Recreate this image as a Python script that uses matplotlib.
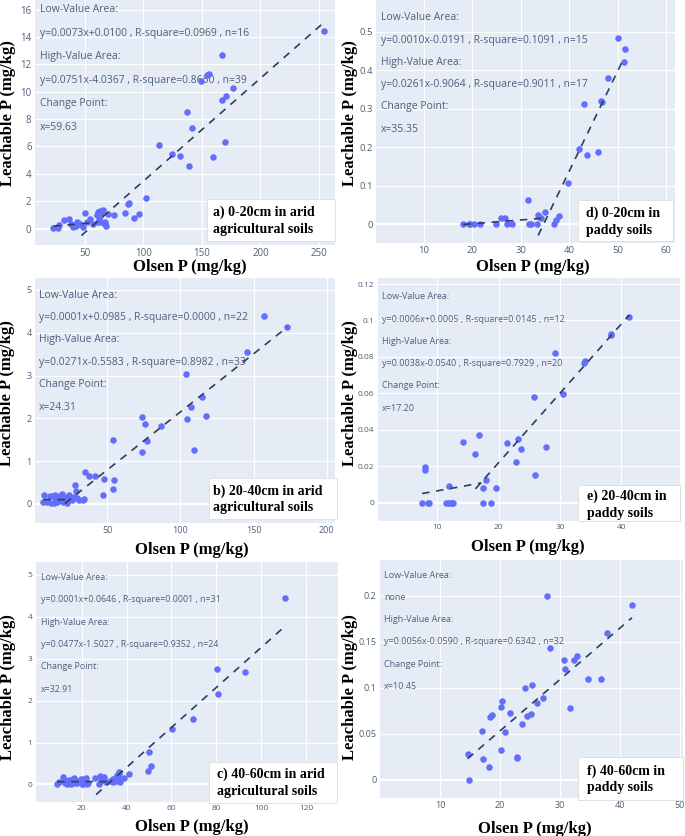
import matplotlib
matplotlib.use("Agg")
import numpy as np
import matplotlib.pyplot as plt
from matplotlib.patches import Rectangle

W, H = 685, 836
BLUE = "#636efa"
INK = "#2a3f5f"
GREY = "#4f5f7a"
BG = "#e5ecf6"

# ---- a) 0-20cm arid ----
a_low_x = [23, 27, 28, 32, 36, 38, 40, 42, 43, 44, 46, 48, 50, 52, 54, 57]
a_low_y = [0.07, 0.02, 0.25, 0.64, 0.68, 0.30, 0.10, 0.22, 0.45, 0.38, 0.30, 0.15, 1.13, 0.50, 0.69, 0.30]
a_high_x = [60, 61, 61.5, 62, 62.5, 63, 63.5, 64, 65, 66, 67, 67.5, 68, 70, 75, 84.4, 86.5, 88, 92.1, 96.4,
            102.1, 113.2, 124.5, 131.4, 136.8, 138.5, 141.3, 149.6, 154, 156, 159.8, 167.5, 167.2, 169.8,
            170.3, 176.6, 254]
a_high_y = [1.0, 1.2, 0.45, 0.85, 1.3, 0.95, 0.5, 1.1, 1.35, 0.4, 0.3, 0.5, 0.22, 1.1, 0.98, 1.13, 1.82, 1.86,
            0.74, 1.06, 2.24, 6.12, 5.43, 5.33, 8.5, 4.57, 7.37, 10.81, 11.2, 11.3, 5.21, 12.68, 9.41, 6.29,
            9.71, 10.27, 14.45]
a_fit = [(0.0073, 0.0100, 0.0969, 16), (0.0751, -4.0367, 0.8650, 39)]
a_span = [(23, 59.63), (47, 254)]
a_cp = 59.63

# ---- d) 0-20cm paddy ----
d_low_x = [18.2, 19.3, 19.6, 20.3, 21.7, 25.0, 26.0, 26.8, 27.2, 28.3, 31.5, 31.8, 32.2, 33.4, 33.6, 33.8, 34.1, 35.1]
d_low_y = [0, 0, 0, 0, 0, 0, 0.015, 0.016, 0, 0, 0.0625, 0, 0, 0, 0.025, 0.019, 0.015, 0.032]
d_high_x = [36.8, 37.3, 37.9, 39.8, 42.1, 43.1, 43.65, 45.9, 46.6, 46.8, 48.05, 50.04, 51.3, 51.4]
d_high_y = [0, 0.012, 0.021, 0.106, 0.196, 0.3125, 0.18, 0.188, 0.32, 0.318, 0.38, 0.4835, 0.422, 0.455]
d_fit = [(0.0010, -0.0191, 0.1091, 15), (0.0261, -0.9064, 0.9011, 17)]
d_span = [(18.2, 35.35), (33.6, 51.4)]
d_cp = 35.35

# ---- b) 20-40cm arid ----
b_low_x = [6.2, 6.9, 8.0, 9.0, 10.8, 11.5, 12.5, 13.8, 14.2, 15.0, 15.8, 16.5, 17.2, 18.0, 18.8, 19.5, 19.9,
           20.5, 21.2, 22.2, 23.0, 24.0]
b_low_y = [0.05, 0.21, 0.06, 0.04, 0.19, 0.02, 0.18, 0.03, 0.21, 0.10, 0.05, 0.15, 0.08, 0.20, 0.22, 0.12, 0.04,
           0.17, 0.09, 0.02, 0.12, 0.20]
b_high_x = [25.5, 27.0, 27.9, 28.6, 29.0, 30.5, 33.4, 34.3, 34.7, 37.7, 41.6, 47.3, 47.9, 53.9, 54.1, 54.3,
            73.7, 73.9, 75.8, 77.1, 86.7, 104.0, 104.7, 107.4, 109.3, 114.7, 117.5, 145.5, 157.4, 173.1]
b_high_y = [0.1, 0.15, 0.44, 0.31, 0.13, 0.08, 0.09, 0.12, 0.755, 0.66, 0.66, 0.2, 0.58, 0.34, 1.5, 0.56,
            2.02, 1.21, 1.86, 1.48, 1.81, 3.03, 1.98, 2.27, 1.25, 2.49, 2.06, 3.56, 4.39, 4.14]
b_fit = [(0.0001, 0.0985, 0.0000, 22), (0.0271, -0.5583, 0.8982, 33)]
b_span = [(6.2, 24.31), (21, 173.1)]
b_cp = 24.31

# ---- e) 20-40cm paddy ----
e_low_x = [7.5, 7.9, 7.9, 8.5, 8.7, 11.4, 11.7, 11.9, 12.0, 12.3, 12.6, 14.1, 16.2, 16.8]
e_low_y = [0, 0.0194, 0.018, 0, 0, 0, 0, 0.0091, 0, 0, 0, 0.0331, 0.0265, 0.037]
e_high_x = [17.4, 17.4, 17.9, 18.7, 19.5, 21.3, 22.8, 23.1, 23.6, 25.8, 26.0, 27.7, 29.2, 30.5, 34.0, 34.1,
            38.3, 38.4, 41.3]
e_high_y = [0.0079, 0, 0.0124, 0, 0.0079, 0.0326, 0.0221, 0.0351, 0.0293, 0.0578, 0.015, 0.0307, 0.082,
            0.0594, 0.0765, 0.0777, 0.0924, 0.092, 0.1019]
e_fit = [(0.0006, 0.0005, 0.0145, 12), (0.0038, -0.0540, 0.7929, 20)]
e_span = [(7.5, 17.2), (16.2, 41.3)]
e_cp = 17.20

# ---- c) 40-60cm arid ----
c_low_x = [9, 10, 11.5, 12, 12.5, 13, 13.5, 14, 14.5, 15, 15.5, 16, 16.5, 17, 17.5, 18, 19.5, 20, 20.5, 21,
           21.5, 22, 22.5, 23, 26, 27.5, 28, 28.5, 30, 31, 32.5]
c_low_y = [0.02, 0.05, 0.17, 0.10, 0.03, 0.08, 0.0, 0.06, 0.10, 0.02, 0.05, 0.12, 0.16, 0.04, 0.08, 0.03,
           0.12, 0.02, 0.0, 0.13, 0.05, 0.15, 0.02, 0.04, 0.16, 0.0, 0.20, 0.08, 0.18, 0.05, 0.08]
c_high_x = [33.5, 33.8, 34.1, 34.5, 34.9, 35.2, 35.5, 35.9, 36.0, 36.5, 36.8, 37.1, 38.9, 41.2, 49.6, 49.9,
            50.8, 60.3, 69.5, 80.5, 80.8, 93.0, 110.8]
c_high_y = [0.1, 0.05, 0.12, 0.1, 0.14, 0.15, 0.08, 0.22, 0.18, 0.3, 0.25, 0.05, 0.16, 0.25, 0.32, 0.78,
            0.45, 1.33, 1.55, 2.75, 2.15, 2.69, 4.46]
c_fit = [(0.0001, 0.0646, 0.0001, 31), (0.0477, -1.5027, 0.9352, 24)]
c_span = [(9, 32.91), (26.4, 110.8)]
c_cp = 32.91

# ---- f) 40-60cm paddy (no low-value area) ----
f_low_x = []
f_low_y = []
f_high_x = [14.6, 14.9, 17.0, 17.2, 18.2, 18.3, 18.6, 20.1, 20.1, 20.3, 20.8, 21.6, 22.9, 22.9, 23.6, 24.2,
            24.5, 25.1, 25.3, 26.1, 27.1, 27.8, 28.3, 30.7, 30.8, 31.7, 32.3, 32.8, 34.6, 36.9, 37.8, 42.0]
f_high_y = [0.028, 0.0, 0.053, 0.022, 0.014, 0.068, 0.070, 0.079, 0.032, 0.086, 0.052, 0.072, 0.025, 0.023,
            0.0605, 0.100, 0.069, 0.071, 0.103, 0.083, 0.089, 0.200, 0.143, 0.130, 0.120, 0.0775, 0.130,
            0.135, 0.109, 0.109, 0.160, 0.190]
f_fit = [None, (0.0056, -0.0590, 0.6342, 32)]
f_span = [None, (14.6, 42.0)]
f_cp = 10.45

labels = ["a) 0-20cm in arid\nagricultural soils", "d) 0-20cm in\npaddy soils",
          "b) 20-40cm in arid\nagricultural soils", "e) 20-40cm in\npaddy soils",
          "c) 40-60cm in arid\nagricultural soils", "f) 40-60cm in\npaddy soils"]

# layout in pixels of the 685x836 canvas
panels = [
    dict(lx=a_low_x, ly=a_low_y, hx=a_high_x, hy=a_high_y, fit=a_fit, span=a_span, cp=a_cp,
         area=(35, 0, 335, 245), xlim=(7.3, 263.7), ylim=(-1.2, 16.7),
         xt=[50, 100, 150, 200, 250], yt=list(range(0, 17, 2)), tick_fs=7, note_fs=7.5,
         note=(40, 10, 23.4), tag=(207, 199, 335, 241), tagxy=(213, 212.7), xtitle=(190, 267), ytitle=(8, 113)),
    dict(lx=d_low_x, ly=d_low_y, hx=d_high_x, hy=d_high_y, fit=d_fit, span=d_span, cp=d_cp,
         area=(376, 0, 675, 243), xlim=(0.2, 61.8), ylim=(-0.049, 0.583),
         xt=[10, 20, 30, 40, 50, 60], yt=[0, 0.1, 0.2, 0.3, 0.4, 0.5], tick_fs=6.8, note_fs=7.5,
         note=(380.7, 17.7, 22.3), tag=(578, 200, 673, 241), tagxy=(585.7, 213.3), xtitle=(533, 267), ytitle=(350, 113)),
    dict(lx=b_low_x, ly=b_low_y, hx=b_high_x, hy=b_high_y, fit=b_fit, span=b_span, cp=b_cp,
         area=(35, 278, 335, 522.7), xlim=(0.5, 205.7), ylim=(-0.44, 5.28),
         xt=[50, 100, 150, 200], yt=[0, 1, 2, 3, 4, 5], tick_fs=6.5, note_fs=7.5,
         note=(39, 295, 22.4), tag=(209, 478, 337, 519), tagxy=(213.3, 491), xtitle=(191.7, 550), ytitle=(7.3, 393)),
    dict(lx=e_low_x, ly=e_low_y, hx=e_high_x, hy=e_high_y, fit=e_fit, span=e_span, cp=e_cp,
         area=(378, 278, 680, 520.7), xlim=(0.3, 49.6), ylim=(-0.0099, 0.1233),
         xt=[10, 20, 30, 40], yt=[0, 0.02, 0.04, 0.06, 0.08, 0.1, 0.12], tick_fs=6, note_fs=6.5,
         note=(382.3, 296.7, 22.3), tag=(578, 485, 680, 520.7), tagxy=(586.7, 496.7), xtitle=(528, 546.7), ytitle=(350, 393)),
    dict(lx=c_low_x, ly=c_low_y, hx=c_high_x, hy=c_high_y, fit=c_fit, span=c_span, cp=c_cp,
         area=(36, 562, 338, 802), xlim=(-0.4, 134.3), ylim=(-0.42, 5.31),
         xt=[20, 40, 60, 80, 100, 120], yt=[0, 1, 2, 3, 4, 5], tick_fs=6, note_fs=6.4,
         note=(41, 577.7, 22.3), tag=(209, 761.7, 337, 803), tagxy=(216.7, 774.3), xtitle=(191.7, 826.7), ytitle=(8, 687)),
    dict(lx=f_low_x, ly=f_low_y, hx=f_high_x, hy=f_high_y, fit=f_fit, span=f_span, cp=f_cp,
         area=(380, 560, 683, 798), xlim=(0, 50.5), ylim=(-0.02, 0.239),
         xt=[10, 20, 30, 40, 50], yt=[0, 0.05, 0.1, 0.15, 0.2], tick_fs=6.5, note_fs=6.5,
         note=(384.3, 575.7, 22.1), tag=(578, 756.7, 683, 800), tagxy=(586.7, 771), xtitle=(535, 829), ytitle=(350, 687)),
]


def fx(px):
    return px / W


def fy(py):
    return 1 - py / H


def fit_text(f):
    if f is None:
        return "none"
    s, i, r, n = f
    return f"y={s:.4f}x{i:+.4f} , R-square={r:.4f} , n={n}"


fig = plt.figure(figsize=(W / 100, H / 100), dpi=100)
fig.patch.set_facecolor("white")
serif = "Liberation Serif"

for p, lab in zip(panels, labels):
    l, t, r, b = p["area"]
    ax = fig.add_axes([fx(l), fy(b), (r - l) / W, (b - t) / H])
    ax.set_facecolor(BG)
    for s in ax.spines.values():
        s.set_visible(False)
    ax.set_xlim(*p["xlim"])
    ax.set_ylim(*p["ylim"])
    ax.set_xticks(p["xt"])
    ax.set_yticks(p["yt"])
    ax.set_xticklabels([f"{v:g}" for v in p["xt"]])
    ax.set_yticklabels([f"{v:g}" for v in p["yt"]])
    ax.tick_params(length=0, pad=2.5, labelsize=p["tick_fs"], labelcolor=GREY)
    for tl in ax.get_xticklabels() + ax.get_yticklabels():
        tl.set_family("Open Sans")
    ax.grid(True, color="white", lw=0.8)
    ax.set_axisbelow(True)
    ax.axhline(0, color="white", lw=1.6, zorder=0.6)

    ax.scatter(p["lx"] + p["hx"], p["ly"] + p["hy"], s=22, color=BLUE, linewidths=0, zorder=2)

    for f, sp in zip(p["fit"], p["span"]):
        if f is None:
            continue
        xs = np.array(sp)
        ax.plot(xs, f[0] * xs + f[1], color=INK, lw=1.2, dashes=(4.5, 4), zorder=3)

    # annotation block
    nx, ny0, dy = p["note"]
    notes = ["Low-Value Area:", fit_text(p["fit"][0]), "High-Value Area:", fit_text(p["fit"][1]),
             "Change Point:", f"x={p['cp']:.2f}"]
    for k, s in enumerate(notes):
        py = ny0 + k * dy
        ax.text((nx - l) / (r - l), (b - py) / (b - t), s, transform=ax.transAxes, ha="left", va="center",
                fontsize=p["note_fs"], family="Open Sans", color=GREY, zorder=1)

    # panel tag box
    tl_, tt, tr, tb = p["tag"]
    fig.add_artist(Rectangle((fx(tl_), fy(tb)), (tr - tl_) / W, (tb - tt) / H, transform=fig.transFigure,
                             facecolor="white", edgecolor="#dcdcdc", lw=0.6, zorder=5))
    tx, ty = p["tagxy"]
    for k, line in enumerate(lab.split("\n")):
        fig.text(fx(tx), fy(ty + 17 * k), line, ha="left", va="center", fontsize=10, family=serif,
                 fontweight="bold", color="black", zorder=6)

    xt_x, xt_y = p["xtitle"]
    fig.text(fx(xt_x), fy(xt_y), "Olsen P (mg/kg)", ha="center", va="center", fontsize=12,
             family=serif, fontweight="bold", zorder=4)
    yt_x, yt_y = p["ytitle"]
    fig.text(fx(yt_x), fy(yt_y), "Leachable P (mg/kg)", ha="center", va="center", rotation=90,
             fontsize=12, family=serif, fontweight="bold", zorder=4)

fig.savefig("out.png", dpi=100, facecolor="white")
